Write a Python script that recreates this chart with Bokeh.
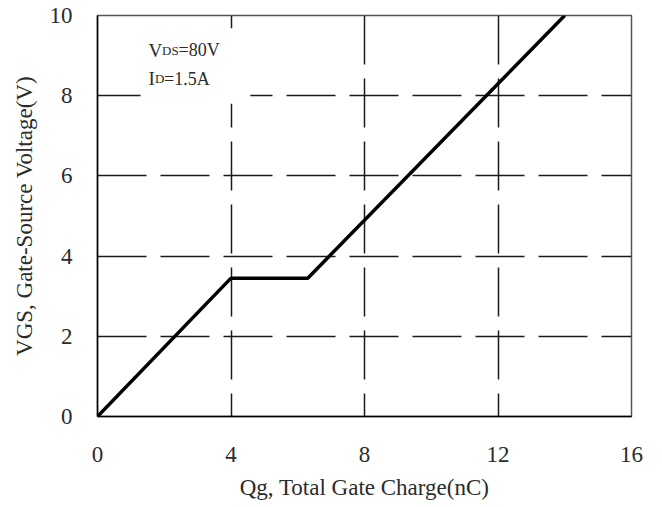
from bokeh.plotting import figure
from bokeh.models import Range1d, BoxAnnotation, Label, FixedTicker
from bokeh.embed import file_html
from bokeh.resources import INLINE

# Data
qg_nc = [0.0, 4.0, 6.3, 14.0]        # Total gate charge (nC)
vgs_v = [0.0, 3.45, 3.45, 10.0]      # Gate-source voltage (V)
x_ticks = [0, 4, 8, 12, 16]
y_ticks = [0, 2, 4, 6, 8, 10]
x_title = "Qg, Total Gate Charge(nC)"
y_title = "VGS, Gate-Source Voltage(V)"

FONT = "Liberation Serif"
TXT = "#2b2b2b"

p = figure(width=662, height=507, output_backend="svg", toolbar_location=None,
           x_range=Range1d(0, 16), y_range=Range1d(0, 10),
           min_border_left=97, min_border_right=31, min_border_top=15, min_border_bottom=91)
p.background_fill_color = "white"
p.border_fill_color = "white"
p.outline_line_color = "#555555"
p.outline_line_width = 1.5

for ax, ticks in ((p.xaxis[0], x_ticks), (p.yaxis[0], y_ticks)):
    ax.ticker = FixedTicker(ticks=ticks)
    ax.major_tick_line_color = None
    ax.minor_tick_line_color = None
    ax.axis_line_color = "black"
    ax.axis_line_width = 1.5
    ax.major_label_text_font = FONT
    ax.major_label_text_font_size = "23px"
    ax.major_label_text_color = TXT
    ax.axis_label_text_font = FONT
    ax.axis_label_text_font_size = "23px"
    ax.axis_label_text_font_style = "normal"
    ax.axis_label_text_color = TXT

p.xaxis.axis_label = x_title
p.yaxis.axis_label = y_title
p.xaxis.major_label_standoff = 24
p.xaxis.axis_label_standoff = 10
p.yaxis.major_label_standoff = 19
p.yaxis.axis_label_standoff = 10

# dashed grid
p.xgrid.ticker = FixedTicker(ticks=x_ticks)
p.ygrid.ticker = FixedTicker(ticks=y_ticks)
for g in (p.xgrid[0], p.ygrid[0]):
    g.grid_line_color = "#1a1a1a"
    g.grid_line_width = 1.5
    g.grid_line_dash = "49 14"
p.xgrid[0].grid_line_dash_offset = 26

# white box behind the annotation text
p.add_layout(BoxAnnotation(left=1.29, right=4.58, bottom=7.8, top=9.68,
                           fill_color="white", fill_alpha=1.0, line_color=None,
                           level="underlay"))

p.line(qg_nc, vgs_v, line_color="black", line_width=3.5)

def lab(x, y, text, size, xoff):
    p.add_layout(Label(x=x, y=y, text=text, x_offset=xoff, text_font=FONT,
                       text_font_size=size, text_color=TXT, text_baseline="alphabetic"))

lab(1.53, 9.13, "V", "19px", 0)
lab(1.53, 9.13, "DS", "13px", 13.5)
lab(1.53, 9.13, "=80V", "18px", 30)
lab(1.53, 8.42, "I", "19px", 0)
lab(1.53, 8.42, "D", "13px", 6.5)
lab(1.53, 8.42, "=1.5A", "18px", 15.5)

open("out.html", "w").write(file_html(p, INLINE))
